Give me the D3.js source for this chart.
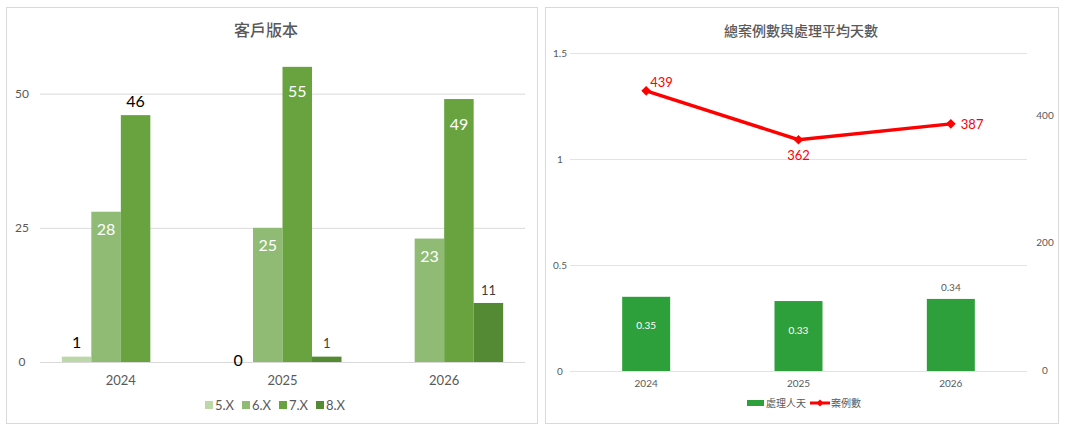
<!DOCTYPE html>
<html>
<head>
<meta charset="utf-8">
<script src="https://cdn.jsdelivr.net/npm/d3@7"></script>
<style>
  body { margin: 0; background: #fff; }
  svg { display: block; font-family: Lato, "Noto Sans CJK TC", sans-serif; }
</style>
</head>
<body>
<svg id="chart" width="1065" height="430"></svg>
<script>
// left chart data
const years = ["2024", "2025", "2026"];
const versions = ["5.X", "6.X", "7.X", "8.X"];
const versionCounts = [
    [1, 28, 46, null],
    [0, 25, 55, 1],
    [null, 23, 49, 11]
];
const leftTicks = [0, 25, 50];

// right chart data
const avgDays = [0.35, 0.33, 0.34];
const caseCounts = [439, 362, 387];
const dayTicks = [0, 0.5, 1, 1.5];
const caseTicks = [0, 200, 400];

const versionColors = ["#bcd8a8", "#8fbb75", "#68a33f", "#548a34"];
const axisGray = "#595959";
const cjk = "'Noto Sans CJK TC', sans-serif";

const svg = d3.select("#chart");

// panel frames
[[6, 7, 531, 416], [545, 7, 513, 416]].forEach(p => {
    svg.append("rect")
        .attr("x", p[0] + 0.5).attr("y", p[1] + 0.5)
        .attr("width", p[2]).attr("height", p[3])
        .attr("fill", "#fff").attr("stroke", "#d9d9d9");
});

// ---------- left: 客戶版本 ----------
const x0 = d3.scaleBand().domain(years).range([40, 525]).paddingInner(0.27).paddingOuter(0.135);
const x1 = d3.scaleBand().domain(versions).range([0, x0.bandwidth()]);
const yL = d3.scaleLinear().domain([0, 60]).range([362, 40]);

svg.append("text")
    .attr("x", 266).attr("y", 36)
    .attr("text-anchor", "middle")
    .style("font-family", cjk).style("font-size", "16px").style("font-weight", 500)
    .attr("fill", axisGray)
    .text("客戶版本");

leftTicks.forEach(t => {
    svg.append("line")
        .attr("x1", 40).attr("x2", 525)
        .attr("y1", yL(t) + 0.5).attr("y2", yL(t) + 0.5)
        .attr("stroke", "#d9d9d9");
    svg.append("text")
        .attr("x", 22).attr("y", yL(t)).attr("dy", "0.35em")
        .attr("text-anchor", "middle")
        .style("font-size", "12px").attr("fill", axisGray)
        .text(t);
});

years.forEach((yr, i) => {
    svg.append("text")
        .attr("x", x0(yr) + x0.bandwidth() / 2).attr("y", 385)
        .attr("text-anchor", "middle")
        .style("font-size", "13px").attr("fill", axisGray)
        .text(yr);

    versions.forEach((v, j) => {
        const val = versionCounts[i][j];
        if (val === null) return;
        const bx = x0(yr) + x1(v);
        svg.append("rect")
            .attr("x", bx).attr("y", yL(val))
            .attr("width", x1.bandwidth())
            .attr("height", yL(0) - yL(val))
            .attr("fill", versionColors[j]);

        // label placement: white labels inside the tall bars, except 2024 7.X
        const inside = j === 1 || (j === 2 && i > 0);
        const small = j === 3;
        let ly;
        if (inside) ly = yL(val) + (j === 2 ? 25 : 18);
        else ly = yL(val) - (small ? 13 : (val === 0 ? 2 : 14));
        svg.append("text")
            .attr("x", bx + x1.bandwidth() / 2)
            .attr("y", ly)
            .attr("dy", "0.35em")
            .attr("text-anchor", "middle")
            .style("font-size", small ? "13px" : "16px")
            .attr("fill", inside ? "#fff" : (small ? "#404040" : "#000"))
            .text(val);
    });
});

// left legend
const legL = svg.append("g").attr("transform", "translate(205,405)");
versions.forEach((v, j) => {
    const g = legL.append("g").attr("transform", `translate(${j * 37},0)`);
    g.append("rect").attr("x", 0).attr("y", -4).attr("width", 8).attr("height", 8).attr("fill", versionColors[j]);
    g.append("text").attr("x", 10).attr("dy", "0.35em")
        .style("font-size", "13px").attr("fill", axisGray).text(v);
});

// ---------- right: 總案例數與處理平均天數 ----------
const xR = d3.scaleBand().domain(years).range([570, 1027]).paddingInner(0.685).paddingOuter(0.3425);
const yD = d3.scaleLinear().domain([0, 1.5]).range([371, 53]);
const yC = d3.scaleLinear().domain([0, 500]).range([370, 52]);
const cx = d => xR(d) + xR.bandwidth() / 2;

svg.append("text")
    .attr("x", 801).attr("y", 36)
    .attr("text-anchor", "middle")
    .style("font-family", cjk).style("font-size", "14px").style("font-weight", 500)
    .attr("fill", axisGray)
    .text("總案例數與處理平均天數");

dayTicks.forEach(t => {
    svg.append("line")
        .attr("x1", 570).attr("x2", 1027)
        .attr("y1", yD(t) + 0.5).attr("y2", yD(t) + 0.5)
        .attr("stroke", "#e3e3e3");
    svg.append("text")
        .attr("x", 560).attr("y", yD(t)).attr("dy", "0.35em")
        .attr("text-anchor", "middle")
        .style("font-size", "10px").attr("fill", axisGray)
        .text(t);
});

caseTicks.forEach(t => {
    svg.append("text")
        .attr("x", 1045).attr("y", yC(t)).attr("dy", "0.35em")
        .attr("text-anchor", "middle")
        .style("font-size", "10px").attr("fill", axisGray)
        .text(t);
});

years.forEach((yr, i) => {
    svg.append("text")
        .attr("x", cx(yr)).attr("y", 387)
        .attr("text-anchor", "middle")
        .style("font-size", "10px").attr("fill", axisGray)
        .text(yr);

    const v = avgDays[i];
    svg.append("rect")
        .attr("x", xR(yr)).attr("y", yD(v))
        .attr("width", xR.bandwidth())
        .attr("height", yD(0) - yD(v))
        .attr("fill", "#2ea03b");

    const outside = i === 2;
    svg.append("text")
        .attr("x", cx(yr))
        .attr("y", outside ? yD(v) - 11 : yD(v) + 29)
        .attr("dy", "0.35em")
        .attr("text-anchor", "middle")
        .style("font-size", "10px")
        .attr("fill", outside ? axisGray : "#fff")
        .text(v.toFixed(2));
});

const caseLine = d3.line()
    .x((d, i) => cx(years[i]))
    .y(d => yC(d));

svg.append("path")
    .datum(caseCounts)
    .attr("d", caseLine)
    .attr("fill", "none")
    .attr("stroke", "#ff0000")
    .attr("stroke-width", 3.5);

const diamond = d3.symbol().type(d3.symbolDiamond2).size(60);
caseCounts.forEach((c, i) => {
    svg.append("path")
        .attr("d", diamond())
        .attr("transform", `translate(${cx(years[i])},${yC(c)})`)
        .attr("fill", "#ff0000");
});

// case labels: right / below / right
const caseLabelPos = [[4, -8, "start"], [0, 16, "middle"], [10, 1, "start"]];
caseCounts.forEach((c, i) => {
    const p = caseLabelPos[i];
    svg.append("text")
        .attr("x", cx(years[i]) + p[0]).attr("y", yC(c) + p[1])
        .attr("dy", "0.35em")
        .attr("text-anchor", p[2])
        .style("font-size", "13px").attr("fill", "#ff0000")
        .text(c);
});

// right legend
const legR = svg.append("g").attr("transform", "translate(747,403)");
legR.append("rect").attr("x", 0).attr("y", -3).attr("width", 17).attr("height", 6).attr("fill", "#2ea03b");
legR.append("text").attr("x", 19).attr("dy", "0.35em")
    .style("font-family", cjk).style("font-size", "10px").attr("fill", axisGray).text("處理人天");
legR.append("line").attr("x1", 63).attr("x2", 83).attr("y1", 0).attr("y2", 0)
    .attr("stroke", "#ff0000").attr("stroke-width", 3);
legR.append("path").attr("d", d3.symbol().type(d3.symbolDiamond2).size(30)())
    .attr("transform", "translate(73,0)").attr("fill", "#ff0000");
legR.append("text").attr("x", 84).attr("dy", "0.35em")
    .style("font-family", cjk).style("font-size", "10px").attr("fill", axisGray).text("案例數");
</script>
</body>
</html>
